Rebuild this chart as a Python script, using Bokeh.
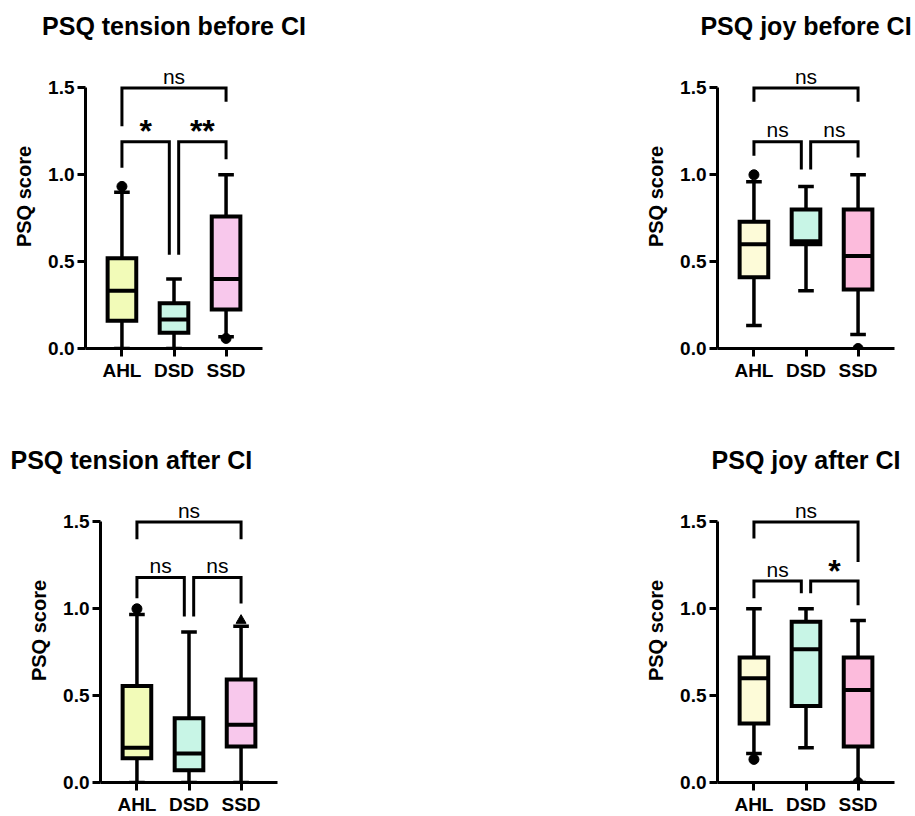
from bokeh.plotting import figure
from bokeh.layouts import column, row
from bokeh.models import FixedTicker, NumeralTickFormatter
from bokeh.core.properties import value
from bokeh.embed import file_html
from bokeh.resources import INLINE

# ---------------- data ----------------
categories = ["AHL", "DSD", "SSD"]
y_ticks = [0.0, 0.5, 1.0, 1.5]
y_label = "PSQ score"

titles = ["PSQ tension before CI", "PSQ joy before CI",
          "PSQ tension after CI", "PSQ joy after CI"]

# PSQ tension before CI
tb_low = [0.0, 0.0, 0.067]
tb_q1 = [0.16, 0.09, 0.225]
tb_med = [0.333, 0.167, 0.4]
tb_q3 = [0.52, 0.26, 0.76]
tb_high = [0.9, 0.4, 1.0]
tb_out_cat = ["AHL", "SSD"]
tb_out_val = [0.933, 0.058]
tb_out_mark = ["circle", "circle"]
tb_sig = ["ns", "*", "**"]          # AHL-SSD, AHL-DSD, DSD-SSD

# PSQ joy before CI
jb_low = [0.133, 0.333, 0.08]
jb_q1 = [0.41, 0.6, 0.34]
jb_med = [0.6, 0.618, 0.533]
jb_q3 = [0.73, 0.8, 0.8]
jb_high = [0.96, 0.933, 1.0]
jb_out_cat = ["AHL", "SSD"]
jb_out_val = [1.0, 0.0]
jb_out_mark = ["circle", "circle"]
jb_sig = ["ns", "ns", "ns"]

# PSQ tension after CI
ta_low = [0.0, 0.0, 0.0]
ta_q1 = [0.14, 0.07, 0.207]
ta_med = [0.2, 0.167, 0.333]
ta_q3 = [0.556, 0.37, 0.593]
ta_high = [0.967, 0.867, 0.9]
ta_out_cat = ["AHL", "SSD"]
ta_out_val = [1.0, 0.933]
ta_out_mark = ["circle", "triangle"]
ta_sig = ["ns", "ns", "ns"]

# PSQ joy after CI
ja_low = [0.167, 0.2, 0.0]
ja_q1 = [0.34, 0.44, 0.207]
ja_med = [0.6, 0.767, 0.533]
ja_q3 = [0.72, 0.925, 0.72]
ja_high = [1.0, 1.0, 0.933]
ja_out_cat = ["AHL", "SSD"]
ja_out_val = [0.133, 0.0]
ja_out_mark = ["circle", "circle"]
ja_sig = ["ns", "ns", "*"]

# ---------------- style / layout ----------------
FONT = "Liberation Sans"
fills_a = ["#f2fbb8", "#c8f5e6", "#f8c8ec"]
fills_b = ["#fdfbd8", "#c8f5e6", "#fcbbdc"]

# bracket geometry per panel: (bar height, left-leg end, right-leg end) for
# AHL-SSD, AHL-DSD, DSD-SSD brackets
brk_tb = [(1.5, 1.28, 1.42), (1.19, 1.04, 0.54), (1.19, 0.54, 1.09)]
brk_jb = [(1.5, 1.42, 1.42), (1.19, 1.11, 1.03), (1.19, 1.03, 1.10)]
brk_ta = [(1.5, 1.40, 1.40), (1.18, 1.06, 0.956), (1.18, 0.956, 1.03)]
brk_ja = [(1.5, 1.405, 1.27), (1.16, 1.06, 1.09), (1.16, 1.09, 1.02)]
brk_x = [(0, 2), (0, 0.91), (1.09, 2)]

BOX_W = 0.55
CAP_W = 0.3


def make_panel(title, low, q1, med, q3, high, out_cat, out_val, out_mark,
               sig, fills, brk, borders, t_align, t_offset):
    left, right, top, bottom = borders
    p = figure(frame_width=177, frame_height=304,
               x_range=(-0.7, 2.7), y_range=(0, 1.75),
               output_backend="svg", toolbar_location=None,
               min_border_left=left, min_border_right=right,
               min_border_top=top, min_border_bottom=bottom,
               background_fill_color="white", border_fill_color="white")
    p.outline_line_color = None
    p.xgrid.grid_line_color = None
    p.ygrid.grid_line_color = None

    p.title.text = title
    p.title.text_font = FONT
    p.title.text_font_size = "25px"
    p.title.text_font_style = "bold"
    p.title.text_color = "black"
    p.title.align = t_align
    p.title.offset = t_offset

    xs = list(range(len(categories)))

    # whiskers
    p.segment(x0=xs, y0=q3, x1=xs, y1=high, line_color="black", line_width=3.5)
    p.segment(x0=xs, y0=q1, x1=xs, y1=low, line_color="black", line_width=3.5)
    # caps
    p.segment(x0=[x - CAP_W / 2 for x in xs], y0=high,
              x1=[x + CAP_W / 2 for x in xs], y1=high,
              line_color="black", line_width=3.5)
    p.segment(x0=[x - CAP_W / 2 for x in xs], y0=low,
              x1=[x + CAP_W / 2 for x in xs], y1=low,
              line_color="black", line_width=3.5)
    # boxes
    p.vbar(x=xs, width=BOX_W, bottom=q1, top=q3, fill_color=fills,
           line_color="black", line_width=4, line_join="miter")
    # medians
    p.segment(x0=[x - BOX_W / 2 for x in xs], y0=med,
              x1=[x + BOX_W / 2 for x in xs], y1=med,
              line_color="black", line_width=4)
    # outliers
    ox = [categories.index(c) for c in out_cat]
    p.scatter(x=ox, y=out_val, marker=out_mark, size=10,
              fill_color="black", line_color="black")

    # significance brackets
    mx, my = [], []
    for (x0, x1), (yb, y0, y1) in zip(brk_x, brk):
        mx.append([x0, x0, x1, x1])
        my.append([y0, yb, yb, y1])
    p.multi_line(xs=mx, ys=my, line_color="black", line_width=3,
                 line_join="miter")

    ns_x, ns_y, ns_t, st_x, st_y, st_t = [], [], [], [], [], []
    for (x0, x1), (yb, _, _), s in zip(brk_x, brk, sig):
        if s == "ns":
            ns_x.append((x0 + x1) / 2)
            ns_y.append(yb + 0.068)
            ns_t.append(s)
        else:
            st_x.append((x0 + x1) / 2)
            st_y.append(yb + 0.06)
            st_t.append(s)
    if ns_t:
        p.text(x=ns_x, y=ns_y, text=ns_t, text_align="center",
               text_baseline="alphabetic", text_font=value(FONT),
               text_font_size="21px", text_color="black")
    if st_t:
        p.text(x=st_x, y=st_y, text=st_t, text_align="center",
               text_baseline="alphabetic", text_font=value(FONT),
               text_font_size="32px", text_font_style="bold",
               text_color="black")

    # axes
    for ax in (p.xaxis[0], p.yaxis[0]):
        ax.axis_line_width = 3
        ax.axis_line_color = "black"
        ax.major_tick_line_width = 3
        ax.major_tick_line_color = "black"
        ax.major_tick_out = 8
        ax.major_tick_in = 0
        ax.minor_tick_line_color = None
        ax.major_label_text_font = FONT
        ax.major_label_text_font_size = "19px"
        ax.major_label_text_font_style = "bold"
        ax.major_label_text_color = "black"
        ax.major_label_standoff = 3

    p.yaxis.bounds = (0, 1.5)
    p.yaxis.ticker = FixedTicker(ticks=y_ticks)
    p.yaxis.formatter = NumeralTickFormatter(format="0.0")
    p.yaxis.axis_label = y_label
    p.yaxis.axis_label_text_font = FONT
    p.yaxis.axis_label_text_font_size = "20px"
    p.yaxis.axis_label_text_font_style = "bold"
    p.yaxis.axis_label_text_color = "black"
    p.yaxis.axis_label_standoff = 10

    p.xaxis.ticker = FixedTicker(ticks=xs)
    p.xaxis.major_label_overrides = {i: c for i, c in enumerate(categories)}
    return p


p1 = make_panel(titles[0], tb_low, tb_q1, tb_med, tb_q3, tb_high,
                tb_out_cat, tb_out_val, tb_out_mark, tb_sig, fills_a, brk_tb,
                (85, 195, 44, 60), "center", 0)
p2 = make_panel(titles[1], jb_low, jb_q1, jb_med, jb_q3, jb_high,
                jb_out_cat, jb_out_val, jb_out_mark, jb_sig, fills_b, brk_jb,
                (260, 21, 44, 60), "center", 0)
p3 = make_panel(titles[2], ta_low, ta_q1, ta_med, ta_q3, ta_high,
                ta_out_cat, ta_out_val, ta_out_mark, ta_sig, fills_a, brk_ta,
                (100, 180, 70, 34), "left", -90)
p4 = make_panel(titles[3], ja_low, ja_q1, ja_med, ja_q3, ja_high,
                ja_out_cat, ja_out_val, ja_out_mark, ja_sig, fills_b, brk_ja,
                (260, 21, 70, 34), "center", 0)

layout = column(row(p1, p2), row(p3, p4))

open("out.html", "w").write(file_html(layout, INLINE))
